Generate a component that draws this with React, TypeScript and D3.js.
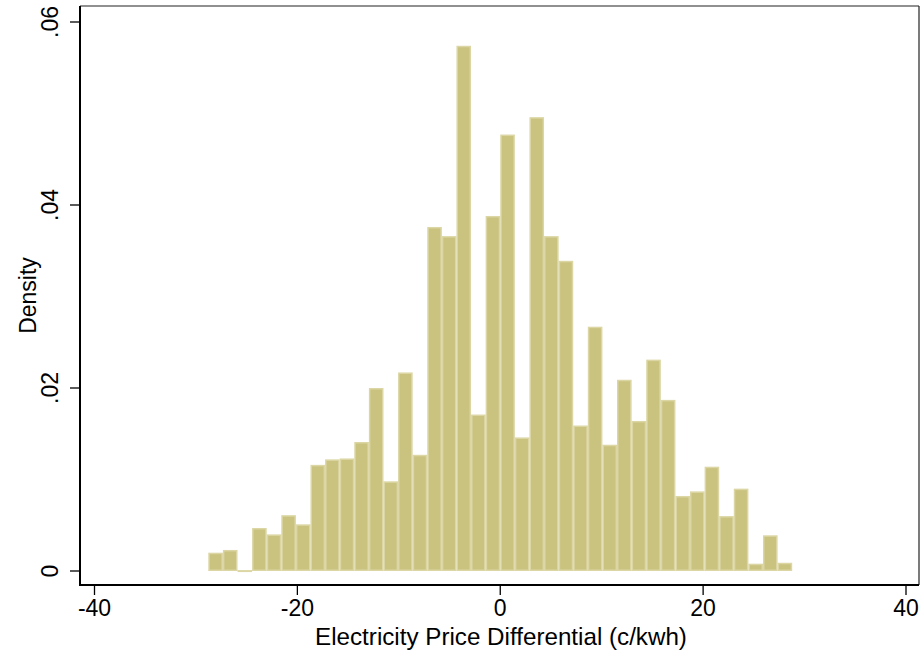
import React from 'react'
import * as d3 from 'd3'

// histogram bins: left edge of first bin and bin width (c/kwh)
const binStart = -28.78
const binWidth = 1.439
const densities = [
  0.002, 0.0023, 0.0001, 0.0047, 0.004, 0.0061, 0.0051, 0.0116, 0.0122, 0.0123,
  0.0141, 0.02, 0.0098, 0.0217, 0.0127, 0.0376, 0.0366, 0.0574, 0.0171, 0.0388,
  0.0477, 0.0146, 0.0496, 0.0366, 0.0339, 0.0159, 0.0267, 0.0138, 0.0209, 0.0164,
  0.0231, 0.0187, 0.0082, 0.0087, 0.0114, 0.006, 0.009, 0.0008, 0.0039, 0.0009
]
const xTicks = [-40, -20, 0, 20, 40]
const yTicks = [0, 0.02, 0.04, 0.06]
const yTickLabels = ['0', '.02', '.04', '.06']

const width = 924
const height = 656
const frame = { left: 80, right: 919, top: 6, bottom: 585 }

export default function App() {
  const x = d3.scaleLinear().domain([-40, 40]).range([94.5, 906])
  const y = d3.scaleLinear().domain([0, 0.06]).range([571, 22])

  const bins = densities.map((d, i) => ({
    x0: binStart + i * binWidth,
    x1: binStart + (i + 1) * binWidth,
    d
  }))

  const font = 'Arial, "Liberation Sans", sans-serif'

  return (
    <svg
      width={width}
      height={height}
      style={{ position: 'absolute', left: 0, top: 0 }}
      fontFamily={font}>
      <rect width={width} height={height} fill='#fff' />

      {bins.map((b, i) => (
        <rect
          key={i}
          x={x(b.x0) + 0.75}
          y={y(b.d) + 0.75}
          width={x(b.x1) - x(b.x0) - 1.5}
          height={Math.max(y(0) - y(b.d) - 1.5, 0.5)}
          fill='#cac27f'
          stroke='#dbd6a4'
          strokeWidth={1.5}
        />
      ))}

      {/* frame */}
      <line x1={frame.left} x2={frame.right} y1={frame.top} y2={frame.top} stroke='#222' strokeWidth={1.2} />
      <line x1={frame.right} x2={frame.right} y1={frame.top} y2={frame.bottom} stroke='#222' strokeWidth={1.2} />
      <line x1={frame.left} x2={frame.left} y1={frame.top} y2={frame.bottom + 1} stroke='#000' strokeWidth={2} />
      <line x1={frame.left - 1} x2={frame.right} y1={frame.bottom} y2={frame.bottom} stroke='#000' strokeWidth={2} />

      {/* y axis */}
      {yTicks.map((t, i) => (
        <g key={t} transform={`translate(0,${y(t)})`}>
          <line x1={frame.left - 10} x2={frame.left} stroke='#000' strokeWidth={1.3} />
          <text
            transform={`translate(${frame.left - 22},0) rotate(-90)`}
            textAnchor='middle'
            fontSize={23}
            fill='#000'>
            {yTickLabels[i]}
          </text>
        </g>
      ))}
      <text
        transform={`translate(36,${(frame.top + frame.bottom) / 2}) rotate(-90)`}
        textAnchor='middle'
        fontSize={23}
        fill='#000'>
        Density
      </text>

      {/* x axis */}
      {xTicks.map(t => (
        <g key={t} transform={`translate(${x(t)},0)`}>
          <line y1={frame.bottom} y2={frame.bottom + 10} stroke='#000' strokeWidth={1.3} />
          <text y={616} textAnchor='middle' fontSize={23} fill='#000'>
            {t}
          </text>
        </g>
      ))}
      <text x={501} y={645} textAnchor='middle' fontSize={24.2} fill='#000'>
        Electricity Price Differential (c/kwh)
      </text>
    </svg>
  )
}
